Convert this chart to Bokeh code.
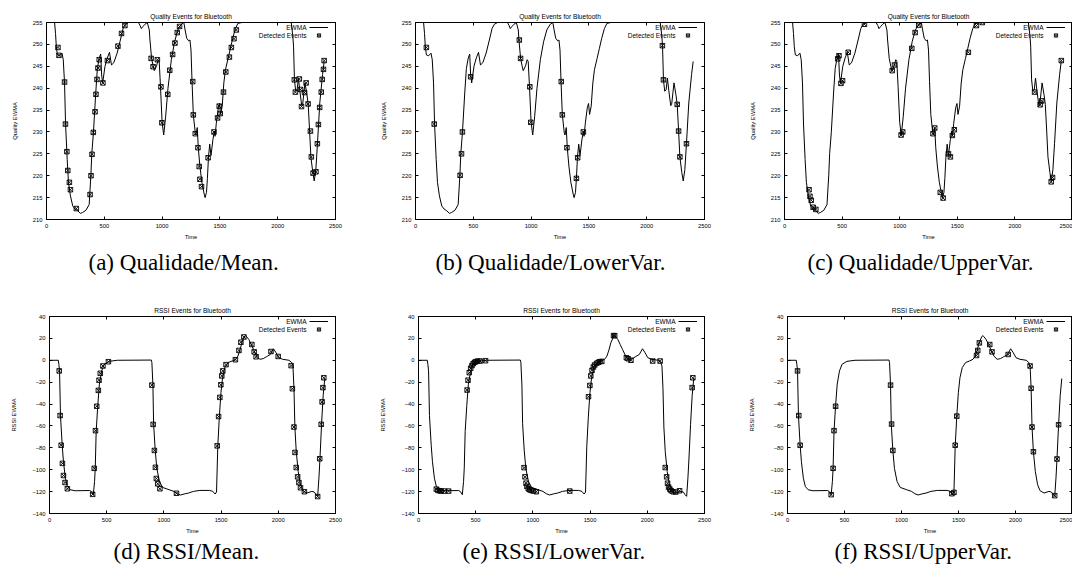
import numpy as np
from bokeh.plotting import figure
from bokeh.models import (LinearAxis, Title, Legend, LegendItem, Label,
                          FixedTicker, Range1d)
from bokeh.layouts import row, column
from bokeh.embed import file_html
from bokeh.resources import INLINE

# ---------------- data ----------------
x_ticks = [0, 500, 1000, 1500, 2000, 2500]
q_ticks = [210, 215, 220, 225, 230, 235, 240, 245, 250, 255]
r_ticks = [-140, -120, -100, -80, -60, -40, -20, 0, 20, 40]

quality_time = [0, 70, 78, 85, 94, 114, 134, 145, 156, 165, 179, 190, 207, 227, 247, 270, 293, 312, 341, 369,
                384, 392, 406, 426, 440, 455, 463, 469, 477, 486, 506, 526, 545, 562, 582, 611, 639, 662, 682, 710,
                795, 810, 820, 835, 852, 872, 889, 895, 909, 923, 932, 952, 966, 975, 986, 1000, 1014, 1031, 1051,
                1080, 1108, 1136, 1165, 1188, 1199, 1213, 1230, 1241, 1250, 1259, 1270, 1287, 1293, 1304, 1313,
                1327, 1344, 1364, 1372, 1384, 1392, 1401, 1412, 1423, 1440, 1452, 1458, 1469, 1486, 1497, 1506,
                1520, 1534, 1548, 1571, 1591, 1611, 1634, 1656, 1690, 2117, 2124, 2131, 2137, 2145, 2156, 2168,
                2179, 2191, 2208, 2216, 2236, 2253, 2264, 2276, 2287, 2304, 2316, 2330, 2344, 2364, 2388, 2402]
quality_ewma = [255, 255, 252.5, 249.5, 247.6, 247.4, 248, 246.5, 241.2, 231.8, 223.7, 218.5, 215.4, 213.1, 212.4,
                212.0, 211.4, 211.6, 212.1, 213.4, 220.1, 225.1, 229.8, 238.9, 244.5, 246.7, 247.4, 247.8, 243,
                241.2, 245, 246.9, 248.2, 245.3, 245.8, 248, 251, 253.6, 254.6, 255, 255, 254.3, 253.6, 254.1,
                254.6, 255, 253.3, 251, 246.8, 245, 244, 245.1, 246.5, 246.1, 240.4, 232.2, 229.3, 233.6, 240,
                246.5, 250.6, 253.3, 254.6, 255, 253.3, 251.4, 250.8, 251, 248.7, 241.5, 234, 229.8, 229.3, 231,
                226.4, 222.2, 218.5, 215.8, 215, 216.2, 219.4, 224.2, 227.2, 224.6, 228.3, 230.2, 229, 232, 235.5,
                236.5, 234, 235.9, 241.2, 244.2, 246.8, 249.1, 251.4, 253.6, 254.8, 255, 255, 253.5, 251.8, 249.6,
                241.9, 239.3, 239.6, 242.3, 239.5, 236, 236.3, 241.2, 238.5, 236.3, 230.2, 224.3, 220.7, 218.8,
                221.4, 227.3, 236.6, 243.1, 246.1]

rssi_time = [0, 77, 82, 88, 96, 111, 122, 139, 156, 181, 224, 351, 365, 383, 394, 400, 408, 422, 436, 456, 479, 521,
             592, 890, 895, 904, 910, 924, 938, 961, 989, 1046, 1088, 1117, 1145, 1187, 1216, 1258, 1315, 1400, 1428,
             1448, 1460, 1471, 1485, 1499, 1513, 1533, 1562, 1598, 1627, 1647, 1664, 1681, 1703, 1712, 1720, 1743,
             1763, 1783, 1811, 1839, 1868, 1896, 1930, 1958, 1981, 2004, 2038, 2094, 2117, 2128, 2137, 2145, 2157,
             2174, 2194, 2216, 2250, 2293, 2315, 2330, 2344, 2355, 2364, 2378, 2392, 2406]
rssi_ewma = [0, 0, -3.7, -9.7, -50.5, -77.6, -92.7, -107.7, -115.3, -118.3, -119.2, -119, -119.8, -122.8, -110.7,
             -98.7, -64.9, -41.4, -21.8, -9.7, -3.6, -1, 0, 0.2, -2, -22.7, -58, -82.1, -98.7, -110.7, -116.2,
             -118.3, -119.8, -121.9, -123.1, -121.9, -121.3, -119.8, -118.9, -118.9, -119.8, -122.2, -120.4, -78.5,
             -51, -29.3, -15.8, -6.7, -2.1, -0.6, 0.9, 3.8, 9.2, 15.9, 21.3, 22.5, 21.9, 18.9, 14.4, 10, 3.8, 0.9,
             1.5, 3.2, 5.3, 10.5, 6.8, 2.4, 0.9, 0, -2.1, -5.2, -25.6, -61, -83.6, -101.7, -113.8, -119.2, -121.3,
             -119.8, -120.4, -122.8, -124.3, -107.7, -90.2, -58.9, -32.4, -16.7]

q_mean_t = [99, 108, 156, 164, 176, 184, 198, 207, 258, 377, 385, 394, 405, 420, 428, 437, 445, 456, 488, 527, 618,
            649, 678, 905, 922, 959, 990, 998, 1049, 1066, 1091, 1111, 1131, 1151, 1265, 1270, 1287, 1310, 1321,
            1327, 1341, 1398, 1449, 1480, 1494, 1503, 1531, 1551, 1582, 1599, 1622, 1642, 2144, 2153, 2187, 2198,
            2206, 2232, 2246, 2263, 2283, 2291, 2306, 2331, 2343, 2352, 2363, 2377, 2385, 2396, 2402]
q_mean_v = [249.3, 247.5, 241.4, 231.8, 225.5, 221.2, 218.5, 216.8, 212.5, 215.7, 220, 224.9, 229.9, 234.6, 238.6,
            242, 244.6, 246.5, 241.2, 246.3, 249.6, 252.5, 254.3, 246.8, 244.9, 246.5, 240.3, 232.1, 238.6, 244.1,
            247.7, 250.3, 252.7, 254.1, 241.5, 233.9, 229.6, 226.4, 222.1, 219.2, 217.5, 224.1, 230, 233.2, 235.9,
            234.2, 239.1, 243.7, 247.1, 249.3, 251.3, 253.3, 241.9, 239.1, 242.1, 239.7, 235.8, 239.0, 241.2, 236.4,
            230.2, 224.3, 220.6, 220.9, 227.3, 231.7, 235.6, 239.1, 242.0, 244.3, 246.3]

q_lower_t = [94, 162, 386, 398, 406, 477, 898, 909, 989, 997, 1261, 1270, 1310, 1392, 1403, 1452, 2136, 2145,
             2264, 2276, 2287, 2344]
q_lower_v = [249.3, 231.8, 220.1, 225, 230, 242.6, 251, 246.8, 240.3, 232.2, 241.5, 233.9, 226.4, 219.4, 224.1,
             230, 249.7, 241.9, 236.3, 230.2, 224.3, 227.3]

q_upper_t = [213, 221, 232, 249, 272, 462, 473, 490, 504, 553, 694, 935, 955, 1012, 1026, 1105, 1134, 1165, 1289,
             1304, 1352, 1377, 1423, 1440, 1457, 1474, 1596, 1666, 1717, 2171, 2219, 2233, 2315, 2327, 2403]
q_upper_v = [216.8, 215.3, 214.4, 212.8, 212.3, 246.7, 247.4, 241.1, 241.7, 248.2, 254.6, 244.0, 245.3, 229.3, 230,
             249.1, 252.7, 254.4, 229.6, 230.9, 216.2, 214.9, 225, 224.3, 229.2, 230.5, 248.2, 254.3, 255, 239.1,
             236.2, 237.1, 218.6, 219.6, 246.3]

r_mean_t = [85, 93, 102, 113, 122, 136, 156, 377, 391, 402, 413, 427, 433, 444, 467, 515, 895, 906, 917, 926, 934,
            946, 965, 1110, 1466, 1478, 1489, 1498, 1506, 1515, 1543, 1625, 1656, 1673, 1699, 1769, 1789, 1806, 1936,
            1999, 2112, 2123, 2137, 2146, 2157, 2169, 2180, 2194, 2228, 2344, 2362, 2375, 2383, 2390, 2398]
r_mean_v = [-9.7, -50.5, -77.6, -94.2, -105.3, -111.7, -117.4, -122.5, -98.7, -64.3, -42, -27.5, -18.2, -11.9, -5.2,
            -1.3, -22.7, -58.6, -82.4, -97.8, -108, -112.9, -117.4, -121.5, -78.2, -51.4, -33.9, -22.4, -14.3, -9.7,
            -4, 0.5, 9, 16.5, 21.3, 14.4, 7.7, 3.2, 8, 3.5, -4.9, -26, -61, -84.2, -98, -106.5, -111.7, -116.5,
            -120.1, -124.5, -90, -58.5, -38, -25, -16]

r_lower_t = [156, 170, 184, 198, 226, 263, 425, 433, 444, 456, 467, 478, 490, 501, 518, 538, 586, 923, 931, 940,
             948, 960, 971, 985, 1005, 1030, 1322, 1486, 1498, 1506, 1517, 1529, 1540, 1557, 1571, 1585, 1602, 1705,
             1715, 1817, 1832, 1857, 2047, 2112, 2157, 2169, 2177, 2186, 2197, 2208, 2225, 2248, 2282, 2392, 2398]
r_lower_v = [-117.7, -118.9, -119.2, -119.5, -119.5, -119.5, -27.2, -18.2, -11.3, -7.3, -4.9, -3.1, -1.9, -1.3,
             -0.7, -0.7, -0.4, -98.1, -106.5, -112.3, -115.3, -117.4, -118.3, -118.9, -119.5, -120.1, -119.5,
             -33.3, -23, -14.3, -9.1, -6.1, -4.3, -2.8, -1.9, -1.3, -1.0, 22.5, 22.5, 2.3, 1.4, 0, -0.7, -0.7,
             -98, -106.5, -112.3, -115.9, -117.7, -119.2, -120.1, -120.4, -119.2, -25, -16]

r_upper_t = [88, 99, 111, 383, 400, 408, 422, 904, 913, 924, 1442, 1460, 1471, 1485, 1658, 1669, 1683, 1774, 1794,
             1936, 2128, 2137, 2145, 2157, 2344, 2364, 2378]
r_upper_v = [-9.7, -50.5, -77.6, -122.8, -98.7, -64.3, -42, -22.7, -58.3, -82.4, -121.9, -120.7, -77.6, -51, 4.4,
             9, 15.9, 14.4, 7.7, 5.3, -5.2, -25.6, -61, -83.6, -123.7, -90.2, -58.9]

SANS = "Liberation Sans"
SERIF = "Liberation Serif"


def make_panel(title, ylabel, yr, yticks, ct, cv, et, ev, caption, cap_offset, cap_standoff,
               width, height, right_border, bottom_border):
    p = figure(width=width, height=height, output_backend="svg", toolbar_location=None,
               x_range=Range1d(0, 2500), y_range=Range1d(yr[0], yr[1]),
               min_border_left=33, min_border_right=right_border, min_border_top=13,
               min_border_bottom=bottom_border)
    p.background_fill_color = "white"
    p.border_fill_color = "white"
    p.outline_line_color = "black"
    p.outline_line_width = 1
    p.xgrid.visible = False
    p.ygrid.visible = False

    p.title.text = title
    p.title.align = "center"
    p.title.text_font = SANS
    p.title.text_font_size = "6.6px"
    p.title.text_font_style = "normal"
    p.title.text_color = "black"
    p.title.standoff = 5

    for ax, ticks in ((p.xaxis[0], x_ticks), (p.yaxis[0], yticks)):
        ax.ticker = FixedTicker(ticks=ticks)
        ax.axis_line_color = "black"
        ax.major_tick_line_color = "black"
        ax.major_tick_in = 3
        ax.major_tick_out = 0
        ax.minor_tick_line_color = None
        ax.major_label_text_font = SANS
        ax.major_label_text_font_size = "5.8px"
        ax.major_label_text_color = "black"
        ax.major_label_standoff = 4
        ax.axis_label_text_font = SANS
        ax.axis_label_text_font_size = "5.8px"
        ax.axis_label_text_font_style = "normal"
        ax.axis_label_text_color = "black"
    p.xaxis.axis_label = "Time"
    p.xaxis.axis_label_standoff = 3
    p.yaxis.axis_label = ylabel
    p.yaxis.axis_label_standoff = 12

    # mirrored inward ticks (gnuplot style)
    for side, ticks in (("right", yticks), ("above", x_ticks)):
        ax = LinearAxis(ticker=FixedTicker(ticks=ticks),
                        major_label_overrides={t: "" for t in ticks},
                        major_label_text_font_size="1px", major_label_standoff=0,
                        major_tick_in=3, major_tick_out=0, axis_line_color=None,
                        minor_tick_line_color=None, major_tick_line_color="black")
        p.add_layout(ax, side)

    line_r = p.line(ct, cv, line_color="black", line_width=1)
    ev_r = p.scatter(et, ev, marker="square_x", size=4.5, line_color="black",
                     fill_color=None, line_width=0.9)

    legend = Legend(items=[LegendItem(label=" ", renderers=[line_r]),
                           LegendItem(label=" ", renderers=[ev_r])],
                    location="top_right", margin=1, padding=0, spacing=0,
                    glyph_width=19, glyph_height=8, label_height=8, label_width=6,
                    label_standoff=0, label_text_font_size="6px",
                    background_fill_alpha=0, border_line_color=None)
    p.add_layout(legend)
    for i, txt in enumerate(["EWMA", "Detected Events"]):
        p.add_layout(Label(x=2500, y=yr[1], x_offset=-29, y_offset=-5 - 8 * i, text=txt,
                           text_align="right", text_baseline="middle", text_font=SANS,
                           text_font_size="6.5px", text_color="black"))

    cap = Title(text=caption, align="left", offset=cap_offset, text_font=SERIF,
                text_font_size="23px", text_font_style="normal", text_color="black",
                standoff=cap_standoff)
    p.add_layout(cap, "below")
    return p


H1, H2 = 294, 266
pa = make_panel("Quality Events for Bluetooth", "Quality EWMA", (210, 255), q_ticks, quality_time, quality_ewma,
                q_mean_t, q_mean_v, "(a) Qualidade/Mean.", 42, 10, 369, H1, 42, H1 - 13 - 198)
pb = make_panel("Quality Events for Bluetooth", "Quality EWMA", (210, 255), q_ticks, quality_time, quality_ewma,
                q_lower_t, q_lower_v, "(b) Qualidade/LowerVar.", 20, 10, 369, H1, 42, H1 - 13 - 198)
pc = make_panel("Quality Events for Bluetooth", "Quality EWMA", (210, 255), q_ticks, quality_time, quality_ewma,
                q_upper_t, q_upper_v, "(c) Qualidade/UpperVar.", 23, 10, 326, H1, 0, H1 - 13 - 198)
pd = make_panel("RSSI Events for Bluetooth", "RSSI EWMA", (-140, 40), r_ticks, rssi_time, rssi_ewma,
                r_mean_t, r_mean_v, "(d) RSSI/Mean.", 64, 0, 369, H2, 42, H2 - 13 - 198)
pe = make_panel("RSSI Events for Bluetooth", "RSSI EWMA", (-140, 40), r_ticks, rssi_time, rssi_ewma,
                r_lower_t, r_lower_v, "(e) RSSI/LowerVar.", 44, 0, 369, H2, 42, H2 - 13 - 198)
pf = make_panel("RSSI Events for Bluetooth", "RSSI EWMA", (-140, 40), r_ticks, rssi_time, rssi_ewma,
                r_upper_t, r_upper_v, "(f) RSSI/UpperVar.", 47, 0, 326, H2, 0, H2 - 13 - 198)

layout = column(row(pa, pb, pc, spacing=0), row(pd, pe, pf, spacing=0), spacing=0,
                margin=(8, 0, 0, 8))

open("out.html", "w").write(file_html(layout, INLINE))
